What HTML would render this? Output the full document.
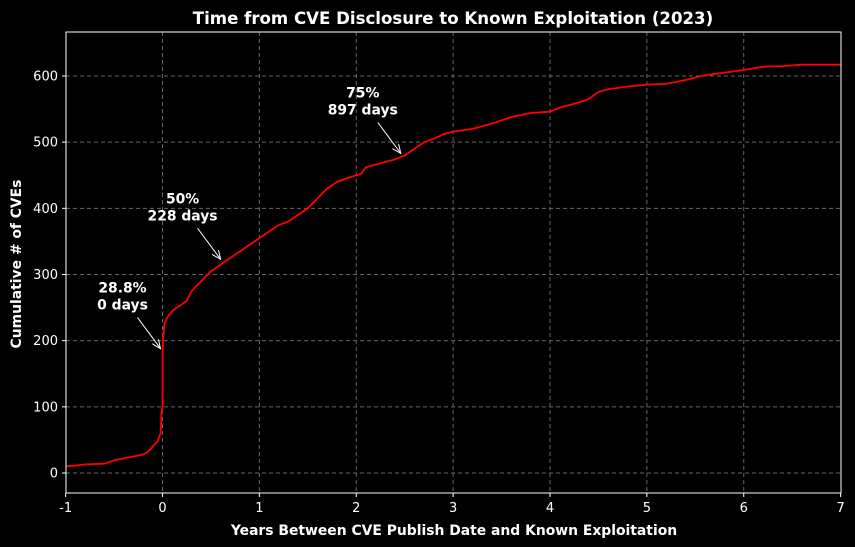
<!DOCTYPE html>
<html><head><meta charset="utf-8">
<style>
html,body{margin:0;padding:0;background:#000;}
svg{display:block;font-family:"DejaVu Sans","Liberation Sans",sans-serif;}
</style></head>
<body>
<svg id="chart" width="855" height="547" viewBox="0 0 855 547" xmlns="http://www.w3.org/2000/svg">
<rect width="855" height="547" fill="#000"/>
<text x="453" y="24" fill="#fff" font-size="16.6" font-weight="bold" text-anchor="middle">Time from CVE Disclosure to Known Exploitation (2023)</text>
<text x="454" y="535" fill="#fff" font-size="13.9" font-weight="bold" text-anchor="middle">Years Between CVE Publish Date and Known Exploitation</text>
<text x="21" y="264" fill="#fff" font-size="13.9" font-weight="bold" text-anchor="middle" transform="rotate(-90 21 264)">Cumulative # of CVEs</text>
<g id="grid"></g>
<g id="ticks"></g>
<path id="line" fill="none" stroke="#ff0000" stroke-width="1.8"/>
<rect x="66" y="32" width="775" height="461" fill="none" stroke="#fff" stroke-width="1"/>
<g id="annots"></g>
</svg>
<script>
const xTicks=[-1,0,1,2,3,4,5,6,7];
const yTicks=[0,100,200,300,400,500,600];
const xYears=[-1,-0.9,-0.8,-0.6,-0.5,-0.4,-0.3,-0.2,-0.15,-0.1,-0.05,-0.02,-0.01,0,0.001,0.005,0.02,0.05,0.1,0.2,0.25,0.3,0.4,0.5,0.6,0.7,0.8,0.9,1.0,1.1,1.2,1.3,1.4,1.5,1.6,1.7,1.8,1.9,2.0,2.05,2.1,2.2,2.3,2.4,2.5,2.6,2.7,2.8,2.9,3.0,3.2,3.4,3.6,3.8,4.0,4.1,4.3,4.4,4.5,4.6,4.8,5.0,5.2,5.4,5.6,5.8,6.0,6.2,6.4,6.6,7];
const yCount=[10,11,13,14,19,22,25,28,32,40,48,60,90,100,180,200,225,235,245,255,260,275,290,305,315,325,335,345,355,365,375,380,390,400,415,430,440,445,450,452,462,466,470,474,480,490,500,505,512,516,520,528,538,544,546,552,560,565,576,580,584,587,588,594,601,605,609,614,615,617,617];
const annLabels=[["28.8%","0 days"],["50%","228 days"],["75%","897 days"]];
const annPoints=[[0,185],[0.62,320],[2.48,480]];
const NS="http://www.w3.org/2000/svg";
const X=v=>162.5+(v)*96.875;
const Y=v=>473-v*0.6617;
function mk(t,a,p){const e=document.createElementNS(NS,t);for(const k in a)e.setAttribute(k,a[k]);p.appendChild(e);return e;}
const grid=document.getElementById('grid'),ticks=document.getElementById('ticks');
xTicks.forEach(t=>{const x=X(t);
 if(t>-1&&t<7){const g=mk('line',{x1:x,x2:x,y1:32,y2:493,stroke:'#666','stroke-dasharray':'4,3','stroke-width':1},grid);
 
 }
 const l=mk('line',{x1:x,x2:x,y1:493,y2:497,stroke:'#fff'},ticks);
 
 
 const tx=mk('text',{x:x,y:512,fill:'#fff','font-size':13,'text-anchor':'middle'},ticks);tx.textContent=t;
 
 
});
yTicks.forEach(t=>{const y=Y(t);
 const g=mk('line',{x1:66,x2:841,y1:y,y2:y,stroke:'#666','stroke-dasharray':'4,3','stroke-width':1},grid);
 
 
 const l=mk('line',{x1:62,x2:66,y1:y,y2:y,stroke:'#fff'},ticks);
 
 
 const tx=mk('text',{x:58,y:y+4.5,fill:'#fff','font-size':13,'text-anchor':'end'},ticks);tx.textContent=t;
 
 
});
let d='';xYears.forEach((v,i)=>{d+=(i?'L':'M')+X(v).toFixed(1)+','+Y(yCount[i]).toFixed(1);});
document.getElementById('line').setAttribute('d',d);
const an=document.getElementById('annots');
mk('defs',{},an).innerHTML='<marker id="ah" markerWidth="10" markerHeight="8" refX="9" refY="4" orient="auto" markerUnits="userSpaceOnUse"><path d="M0,0 L9,4 L0,8" fill="none" stroke="#fff" stroke-width="1"/></marker>';
annPoints.forEach((p,i)=>{const px=X(p[0]),py=Y(p[1]);const tx=px-40;
 const a=mk('line',{x1:px-25,x2:px-2,y1:py-33,y2:py-2,stroke:'#fff','stroke-width':1,'marker-end':'url(#ah)'},an);
 
 
 annLabels[i].forEach((s,j)=>{const t=mk('text',{x:tx,y:py-58+j*17,fill:'#fff','font-size':13.9,'font-weight':'bold','text-anchor':'middle'},an);t.textContent=s;
  
  });
});
</script>
</body></html>
